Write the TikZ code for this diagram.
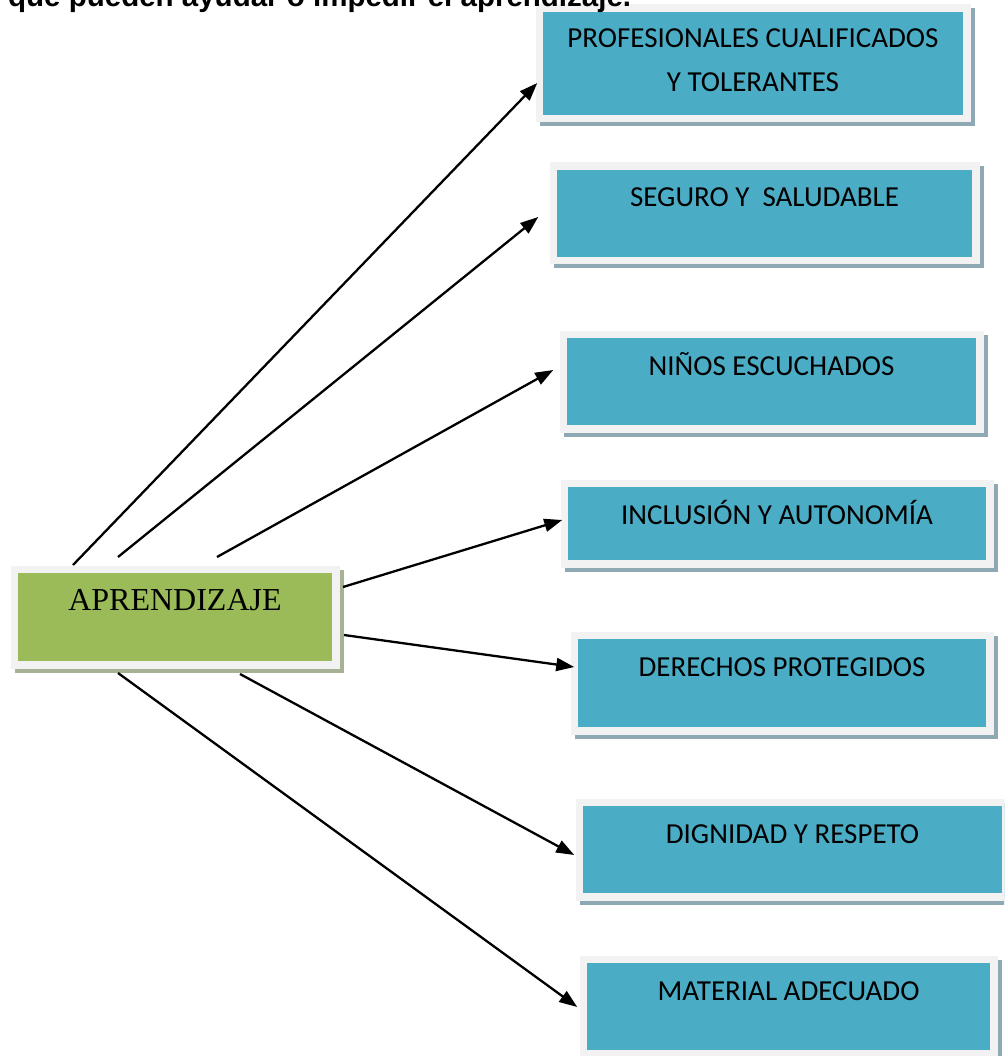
\documentclass[tikz,border=0pt]{standalone}
\usepackage{fontspec}
\setmainfont{Carlito}
\newfontfamily\serifface{Liberation Serif}
\newfontfamily\headface{Liberation Sans}
\usetikzlibrary{arrows.meta}
\definecolor{boxblue}{HTML}{4BACC6}
\definecolor{boxgreen}{HTML}{9BBB59}
\definecolor{framegray}{HTML}{F2F2F2}
\definecolor{shadeblue}{HTML}{8EA9B4}
\definecolor{shadegreen}{HTML}{A5B294}
\tikzset{
  card/.style 2 args={rectangle, fill=#1, draw=framegray, line width=7.5pt,
    inner sep=0pt, outer sep=0pt, anchor=north west,
    preaction={fill=#2, draw=#2, transform canvas={shift={(4pt,-4pt)}}}},
  topic/.style={card={boxblue}{shadeblue}},
  theme/.style={card={boxgreen}{shadegreen}},
  topictext/.style={anchor=base, yshift=-40.75pt, align=center, inner sep=0pt,
    font=\fontsize{29}{44}\selectfont},
  link/.style={line width=2.3pt, -{Triangle[length=18pt,width=13pt]}}
}
\begin{document}
\begin{tikzpicture}[x=1pt,y=-1pt]
				\useasboundingbox (0,0) rectangle (1004,1056);
				\clip (0,0) rectangle (1004,1056);
				
				\coordinate (s1) at (73,565);
				\coordinate (s2) at (118,557);
				\coordinate (s3) at (217,557);
				\coordinate (s4) at (343,587);
				\coordinate (s5) at (344,635);
				\coordinate (s6) at (240,674);
				\coordinate (s7) at (118,673);
				
				\node[topic, minimum width=427.5pt, minimum height=110.5pt,
				      label={[topictext, yshift=-43pt]north:PROFESIONALES CUALIFICADOS\\Y TOLERANTES}] (prof) at (539.25,8.25) {};
				\node[topic, minimum width=422.5pt, minimum height=94.5pt,
				      label={[topictext]north:SEGURO Y\ \ SALUDABLE}] (seguro) at (553.25,166.25) {};
				\node[topic, minimum width=416.5pt, minimum height=94.5pt,
				      label={[topictext]north:NIÑOS ESCUCHADOS}] (ninos) at (563.25,334.25) {};
				\node[topic, minimum width=425.5pt, minimum height=80.5pt,
				      label={[topictext]north:INCLUSIÓN Y AUTONOMÍA}] (inclusion) at (564.25,483.25) {};
				\node[topic, minimum width=415.5pt, minimum height=95.5pt,
				      label={[topictext]north:DERECHOS PROTEGIDOS}] (derechos) at (574.25,635.25) {};
				\node[topic, minimum width=426.5pt, minimum height=94.5pt,
				      label={[topictext]north:DIGNIDAD Y RESPETO}] (dignidad) at (579.25,802.25) {};
				\node[topic, minimum width=410.5pt, minimum height=94.5pt,
				      label={[topictext]north:MATERIAL ADECUADO}] (material) at (583.25,959.25) {};
				
				\node[theme, minimum width=321.5pt, minimum height=95.5pt,
				      label={[topictext, font=\serifface\fontsize{32}{38}\selectfont]north:APRENDIZAJE}] (apr) at (14.25,569.25) {};
				
				\draw[link] (s1) -- ([xshift=-2pt, yshift=-19.5pt]prof.west);
				\draw[link] (s2) -- ([xshift=-15pt, yshift=-3.5pt]seguro.west);
				\draw[link] (s3) -- ([xshift=-10pt, yshift=11.5pt]ninos.west);
				\draw[link] (s4) -- ([xshift=-2pt, yshift=3.5pt]inclusion.west);
				\draw[link] (s5) -- ([yshift=16pt]derechos.west);
				\draw[link] (s6) -- ([xshift=-5pt, yshift=-5.5pt]dignidad.west);
				\draw[link] (s7) -- ([xshift=-6pt, yshift=-0.5pt]material.west);
				
				\node[anchor=base west, inner sep=0pt, font=\headface\bfseries\fontsize{29.5}{35}\selectfont] (head) at (8,7) {que pueden ayudar o impedir el aprendizaje.};
			\end{tikzpicture}
\end{document}
